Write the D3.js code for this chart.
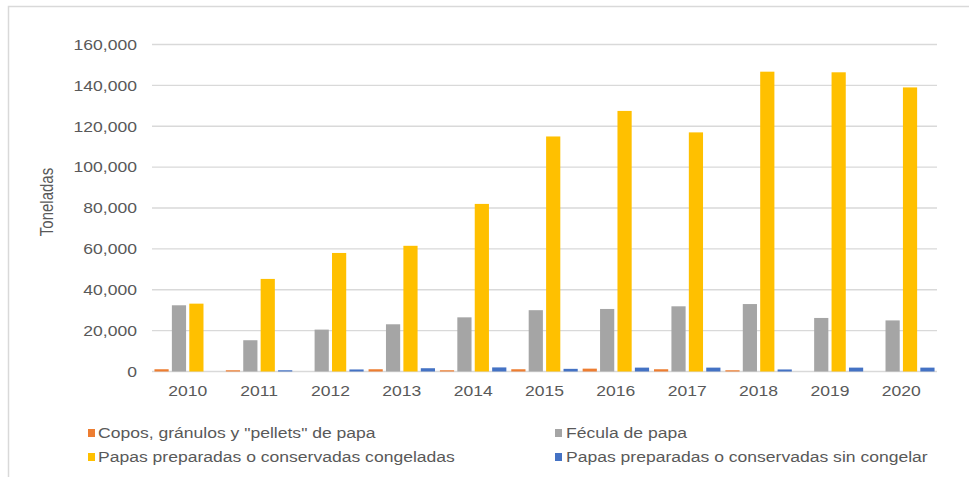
<!DOCTYPE html>
<html>
<head>
<meta charset="utf-8">
<script src="https://cdn.jsdelivr.net/npm/d3@7"></script>
<style>
  html, body { margin: 0; padding: 0; background: #fff; }
  svg { display: block; font-family: "Liberation Sans", Arial, sans-serif; }
</style>
</head>
<body>
<svg id="chart" width="969" height="477"></svg>
<script>
// Exportaciones de productos de papa, toneladas por año
const years = ["2010","2011","2012","2013","2014","2015","2016","2017","2018","2019","2020"];
const seriesNames = [
  "Copos, gránulos y \"pellets\" de papa",
  "Fécula de papa",
  "Papas preparadas o conservadas congeladas",
  "Papas preparadas o conservadas sin congelar"
];
const copos      = [1100, 600, 0, 1100, 600, 1100, 1400, 1100, 600, 0, 0];
const fecula     = [32400, 15300, 20500, 23100, 26500, 30000, 30600, 31900, 33000, 26200, 25000];
const congeladas = [33200, 45300, 58000, 61500, 82000, 115000, 127500, 117000, 146700, 146400, 139000];
const sinCongelar= [0, 600, 1000, 1600, 2000, 1300, 1900, 1900, 1000, 1900, 1900];
const yTicks = [0, 20000, 40000, 60000, 80000, 100000, 120000, 140000, 160000];
const colors = ["#ED7D31", "#A5A5A5", "#FFC000", "#4472C4"];

const series = [copos, fecula, congeladas, sinCongelar];
const SX = 1.17;          // horizontal text stretch
const TEXT = "#595959";
const GRID = "#d9d9d9";

const svg = d3.select("#chart");

// outer frame
svg.append("rect")
  .attr("x", 8.5).attr("y", 6.5)
  .attr("width", 1200).attr("height", 1200)
  .attr("fill", "none").attr("stroke", GRID).attr("stroke-width", 1.5);

const plot = { left: 152, right: 937, top: 44.5, bottom: 371.5 };

const x = d3.scaleBand().domain(years).range([plot.left, plot.right]).paddingInner(0).paddingOuter(0);
const y = d3.scaleLinear().domain([0, 160000]).range([plot.bottom, plot.top]);

const bw = x.bandwidth();
const barW = bw * 0.199;
const step = bw * 0.244;
const groupW = step * 3 + barW;
const x1 = i => (bw - groupW) / 2 + i * step;

// gridlines
svg.append("g").selectAll("line").data(yTicks).join("line")
  .attr("x1", plot.left).attr("x2", plot.right)
  .attr("y1", d => y(d)).attr("y2", d => y(d))
  .attr("stroke", GRID).attr("stroke-width", 1.4);

function stretch(sel) {
  sel.each(function () {
    const t = d3.select(this);
    const tx = +t.attr("x") || 0, ty = +t.attr("y") || 0;
    t.attr("x", 0).attr("y", 0)
     .attr("transform", `translate(${tx},${ty}) scale(${SX},1)`);
  });
}

// y axis
const yAxis = svg.append("g")
  .attr("transform", `translate(${plot.left},0)`)
  .call(d3.axisLeft(y).tickValues(yTicks).tickSize(0).tickPadding(15).tickFormat(d3.format(",")));
yAxis.select(".domain").remove();
yAxis.selectAll("text").attr("fill", TEXT).attr("font-size", 15)
  .attr("font-family", "'Liberation Sans', Arial, sans-serif").call(stretch);

// x axis
const xAxis = svg.append("g")
  .attr("transform", `translate(0,${plot.bottom})`)
  .call(d3.axisBottom(x).tickSize(0).tickPadding(13.5));
xAxis.select(".domain").remove();
xAxis.selectAll("text").attr("fill", TEXT).attr("font-size", 15)
  .attr("font-family", "'Liberation Sans', Arial, sans-serif").call(stretch);

// bars
series.forEach((vals, si) => {
  svg.append("g").selectAll("rect").data(vals).join("rect")
    .attr("x", (d, i) => x(years[i]) + x1(si))
    .attr("width", barW)
    .attr("y", d => y(d))
    .attr("height", d => y(0) - y(d))
    .attr("fill", colors[si]);
});

// y axis title
svg.append("text")
  .attr("transform", `translate(53.3,202) scale(${SX},1) rotate(-90)`)
  .attr("text-anchor", "middle")
  .attr("fill", TEXT).attr("font-size", 15)
  .text("Toneladas");

// legend
const legendPos = [
  { sx: 88, tx: 98, base: 438 },
  { sx: 555, tx: 566, base: 438 },
  { sx: 88, tx: 98, base: 462 },
  { sx: 555, tx: 566, base: 462 }
];
const legend = svg.append("g");
seriesNames.forEach((name, i) => {
  const p = legendPos[i];
  legend.append("rect")
    .attr("x", p.sx).attr("y", p.base - 9)
    .attr("width", 7).attr("height", 8)
    .attr("fill", colors[i]);
  legend.append("text")
    .attr("x", p.tx).attr("y", p.base)
    .attr("fill", TEXT).attr("font-size", 15)
    .text(name)
    .call(stretch);
});
</script>
</body>
</html>
